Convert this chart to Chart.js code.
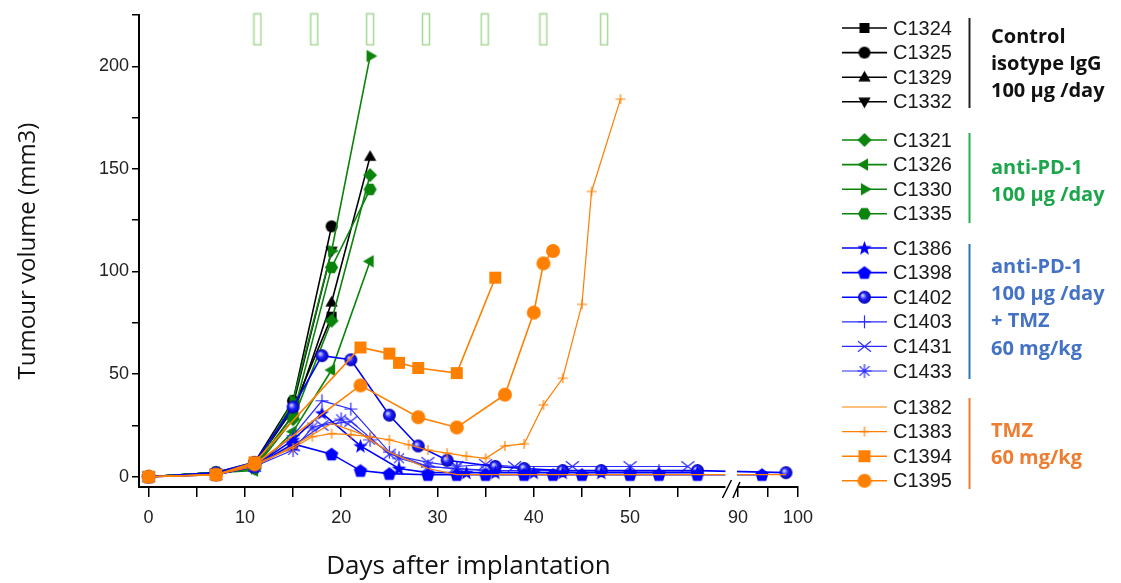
<!DOCTYPE html>
<html>
<head>
<meta charset="utf-8">
<script src="https://cdn.jsdelivr.net/npm/chart.js@4.4.1/dist/chart.umd.min.js"></script>
<style>
  html, body { margin: 0; padding: 0; background: #fff; }
  #chart { display: block; }
</style>
</head>
<body>
<canvas id="chart" width="1121" height="583"></canvas>
<script>
// tumour volume (mm3) by day after implantation, one pair of arrays per mouse

// control isotype IgG
const C1324_days = [0, 7, 11, 15, 19];
const C1324_vol  = [0, 1.5, 6, 33, 78];
const C1325_days = [0, 7, 11, 15, 19];
const C1325_vol  = [0, 2, 7, 37, 122];
const C1329_days = [0, 7, 11, 15, 19, 23];
const C1329_vol  = [0, 1.5, 5, 30, 85, 156];
const C1332_days = [0, 7, 11, 15, 19];
const C1332_vol  = [0, 2, 6, 35, 110];

// anti-PD-1
const C1321_days = [0, 7, 11, 15, 19, 23];
const C1321_vol  = [0, 2, 4, 28, 76, 147];
const C1326_days = [0, 7, 11, 15, 19, 23];
const C1326_vol  = [0, 2, 3, 22, 52, 105];
const C1330_days = [0, 7, 11, 15, 19, 23];
const C1330_vol  = [0, 2, 4, 37, 110, 205];
const C1335_days = [0, 7, 11, 15, 19, 23];
const C1335_vol  = [0, 2, 5, 30, 102, 140];

// anti-PD-1 + TMZ
const C1386_days = [0, 7, 11, 15, 18, 22, 26, 29, 33, 36, 40, 43, 47, 50, 53, 57];
const C1386_vol  = [0, 1, 5, 18, 31, 15, 4, 2, 2, 2, 2, 2, 2, 2, 2, 2];
const C1398_days = [0, 7, 11, 15, 19, 22, 25, 29, 32, 35, 39, 42, 45, 50, 53, 57, 94];
const C1398_vol  = [0, 1, 5, 16, 11, 3, 1.5, 1, 1, 1, 1, 1, 1, 1, 1, 1, 1];
const C1402_days = [0, 7, 11, 15, 18, 21, 25, 28, 31, 36, 39, 43, 47, 57, 98];
const C1402_vol  = [0, 2, 7, 34, 59, 57, 30, 15, 8, 5, 4, 3, 3, 3, 2];
const C1403_days = [0, 7, 11, 15, 18, 21, 25, 29, 32, 36, 39, 43, 47, 50, 53, 57];
const C1403_vol  = [0, 1, 5, 20, 37, 33, 12, 5, 4, 3, 3, 3, 3, 3, 3, 3];
const C1431_days = [0, 7, 11, 15, 18, 21, 25, 29, 32, 35, 38, 44, 50, 56];
const C1431_vol  = [0, 1, 5, 15, 25, 27, 11, 7, 5, 6, 5, 5, 5, 5];
const C1433_days = [0, 7, 11, 15, 17, 20, 23, 26, 29, 32, 35, 39];
const C1433_vol  = [0, 1, 5, 13, 24, 28, 18, 9, 5, 4, 3, 3];

// TMZ
const C1382_days = [0, 7, 11, 15, 19, 22, 25, 29, 32, 98];
const C1382_vol  = [0, 1, 5, 15, 26, 21, 12, 4, 1, 1];
const C1383_days = [0, 7, 11, 15, 17, 19, 21, 23, 25, 27, 29, 31, 33, 35, 37, 39, 41, 43, 45, 46, 49];
const C1383_vol  = [0, 1, 6, 14, 19.5, 21, 20.5, 19.5, 18, 15.6, 13, 11.5, 10, 9, 15, 16, 35, 48, 84, 139, 184];
const C1394_days = [0, 7, 11, 22, 25, 26, 28, 32, 36];
const C1394_vol  = [0, 1, 7, 63, 60, 55.5, 53, 50.5, 97];
const C1395_days = [0, 7, 11, 22, 28, 32, 37, 40, 41, 42];
const C1395_vol  = [0, 1, 6, 44.5, 29, 24, 40, 80, 104, 110];

// dosing days, marked along the top
const dosingDays = [11.3, 17.2, 23, 28.8, 34.9, 41, 47.3];

// axis ticks
const xTickDays  = [0, 5, 10, 15, 20, 25, 30, 35, 40, 45, 50, 55, 90, 95, 100];
const xLabelDays = [0, 10, 20, 30, 40, 50, 90, 100];
const yTicks     = [0, 25, 50, 75, 100, 125, 150, 175, 200, 225];
const yLabels    = [0, 50, 100, 150, 200];

// legend groups
const groupNames = [
  ['C1324', 'C1325', 'C1329', 'C1332'],
  ['C1321', 'C1326', 'C1330', 'C1335'],
  ['C1386', 'C1398', 'C1402', 'C1403', 'C1431', 'C1433'],
  ['C1382', 'C1383', 'C1394', 'C1395']
];
const groupText = [
  ['Control', 'isotype IgG', '100 µg /day'],
  ['anti-PD-1', '100 µg /day'],
  ['anti-PD-1', '100 µg /day', '+ TMZ', '60 mg/kg'],
  ['TMZ', '60 mg/kg']
];

// ---- broken x axis: 0..~60 at full width, 90..100 squeezed after the gap
const BREAK_AT = 59.8;
const RESUME_AT = 90;
const RESUME_POS = 61.2;
const RESUME_SCALE = 0.6237;
function axisPos(day) {
  return day <= BREAK_AT ? day : RESUME_POS + (day - RESUME_AT) * RESUME_SCALE;
}

// ---- marker images
function makeMarker(kind, color, size) {
  const pad = 3;
  const c = document.createElement('canvas');
  c.width = c.height = Math.ceil(size + pad * 2);
  const ctx = c.getContext('2d');
  const cx = c.width / 2, cy = c.height / 2, r = size / 2;
  ctx.fillStyle = color;
  ctx.strokeStyle = color;
  ctx.lineWidth = 1.2;

  function poly(n, rot, rad, yShift) {
    ctx.beginPath();
    for (let i = 0; i < n; i++) {
      const a = rot + i * 2 * Math.PI / n;
      const px = cx + rad * Math.cos(a), py = cy + (yShift || 0) + rad * Math.sin(a);
      if (i === 0) ctx.moveTo(px, py); else ctx.lineTo(px, py);
    }
    ctx.closePath();
    ctx.fill();
  }

  switch (kind) {
    case 'square':
      ctx.fillRect(cx - r, cy - r, size, size);
      break;
    case 'circle':
      ctx.beginPath(); ctx.arc(cx, cy, r, 0, Math.PI * 2); ctx.fill();
      break;
    case 'ball': {
      const g = ctx.createRadialGradient(cx - r * 0.3, cy - r * 0.3, r * 0.1, cx, cy, r);
      g.addColorStop(0, '#c8ccff');
      g.addColorStop(0.45, '#2020ff');
      g.addColorStop(1, '#0000a8');
      ctx.fillStyle = g;
      ctx.beginPath(); ctx.arc(cx, cy, r, 0, Math.PI * 2); ctx.fill();
      break;
    }
    case 'triUp':    poly(3, -Math.PI / 2, r * 1.1, r * 0.1); break;
    case 'triDown':  poly(3, Math.PI / 2, r * 1.1, -r * 0.1); break;
    case 'triLeft':  poly(3, Math.PI, r * 1.1); break;
    case 'triRight': poly(3, 0, r * 1.1); break;
    case 'diamond':  poly(4, 0, r); break;
    case 'hexagon':  poly(6, 0, r); break;
    case 'pentagon': poly(5, -Math.PI / 2, r, r * 0.08); break;
    case 'star': {
      ctx.beginPath();
      for (let i = 0; i < 10; i++) {
        const a = -Math.PI / 2 + i * Math.PI / 5;
        const rad = i % 2 ? r * 0.42 : r;
        const px = cx + rad * Math.cos(a), py = cy + rad * Math.sin(a) + r * 0.08;
        if (i === 0) ctx.moveTo(px, py); else ctx.lineTo(px, py);
      }
      ctx.closePath(); ctx.fill();
      break;
    }
    case 'plus':
      ctx.beginPath();
      ctx.moveTo(cx - r, cy); ctx.lineTo(cx + r, cy);
      ctx.moveTo(cx, cy - r); ctx.lineTo(cx, cy + r);
      ctx.stroke();
      break;
    case 'cross':
      ctx.beginPath();
      ctx.moveTo(cx - r, cy - r * 0.8); ctx.lineTo(cx + r, cy + r * 0.8);
      ctx.moveTo(cx - r, cy + r * 0.8); ctx.lineTo(cx + r, cy - r * 0.8);
      ctx.stroke();
      break;
    case 'asterisk':
      ctx.beginPath();
      for (let i = 0; i < 4; i++) {
        const a = i * Math.PI / 4;
        ctx.moveTo(cx - r * Math.cos(a), cy - r * Math.sin(a));
        ctx.lineTo(cx + r * Math.cos(a), cy + r * Math.sin(a));
      }
      ctx.stroke();
      break;
  }
  return c;
}

function makeDoseBar() {
  const c = document.createElement('canvas');
  c.width = 10; c.height = 34;
  const ctx = c.getContext('2d');
  ctx.fillStyle = '#fff';
  ctx.fillRect(1.5, 1.5, 7, 31);
  ctx.strokeStyle = '#a6d896';
  ctx.lineWidth = 1.5;
  ctx.strokeRect(1.5, 1.5, 7, 31);
  return c;
}

const BLACK = '#000000', GREEN = '#0a840a', BLUE = '#0000ff', BLUE_THIN = '#2b2bff', ORANGE = '#ff8000';

const series = [
  { name: 'C1324', days: C1324_days, vol: C1324_vol, color: BLACK, marker: 'square', size: 10, group: 0 },
  { name: 'C1325', days: C1325_days, vol: C1325_vol, color: BLACK, marker: 'circle', size: 12, group: 0 },
  { name: 'C1329', days: C1329_days, vol: C1329_vol, color: BLACK, marker: 'triUp', size: 13, group: 0 },
  { name: 'C1332', days: C1332_days, vol: C1332_vol, color: BLACK, marker: 'triDown', size: 13, group: 0 },
  { name: 'C1321', days: C1321_days, vol: C1321_vol, color: GREEN, marker: 'diamond', size: 14, group: 1 },
  { name: 'C1326', days: C1326_days, vol: C1326_vol, color: GREEN, marker: 'triLeft', size: 13, group: 1 },
  { name: 'C1330', days: C1330_days, vol: C1330_vol, color: GREEN, marker: 'triRight', size: 13, group: 1 },
  { name: 'C1335', days: C1335_days, vol: C1335_vol, color: GREEN, marker: 'hexagon', size: 13, group: 1 },
  { name: 'C1386', days: C1386_days, vol: C1386_vol, color: BLUE, marker: 'star', size: 15, group: 2 },
  { name: 'C1398', days: C1398_days, vol: C1398_vol, color: BLUE, marker: 'pentagon', size: 14, group: 2 },
  { name: 'C1402', days: C1402_days, vol: C1402_vol, color: BLUE, marker: 'ball', size: 13, group: 2 },
  { name: 'C1403', days: C1403_days, vol: C1403_vol, color: BLUE_THIN, marker: 'plus', size: 13, group: 2, thin: true },
  { name: 'C1431', days: C1431_days, vol: C1431_vol, color: BLUE_THIN, marker: 'cross', size: 13, group: 2, thin: true },
  { name: 'C1433', days: C1433_days, vol: C1433_vol, color: BLUE_THIN, marker: 'asterisk', size: 14, group: 2, thin: true },
  { name: 'C1382', days: C1382_days, vol: C1382_vol, color: ORANGE, marker: null, size: 0, group: 3, thin: true },
  { name: 'C1383', days: C1383_days, vol: C1383_vol, color: ORANGE, marker: 'plus', size: 10, group: 3, thin: true },
  { name: 'C1394', days: C1394_days, vol: C1394_vol, color: ORANGE, marker: 'square', size: 12, group: 3 },
  { name: 'C1395', days: C1395_days, vol: C1395_vol, color: ORANGE, marker: 'circle', size: 14, group: 3 }
];
series.forEach(s => { s.img = s.marker ? makeMarker(s.marker, s.color, s.size) : null; });

// orange drawn on top, then blue, green, black
const groupOrder = [3, 2, 1, 0];

const datasets = series.map(s => ({
  label: s.name,
  data: s.days.map((d, i) => ({ x: axisPos(d), y: s.vol[i] })),
  borderColor: s.color,
  backgroundColor: s.color,
  borderWidth: s.thin ? 1.2 : 1.6,
  pointStyle: s.img || 'circle',
  pointRadius: s.img ? 5 : 0,
  tension: 0,
  order: groupOrder[s.group]
}));

datasets.push({
  label: 'dosing',
  data: dosingDays.map(d => ({ x: axisPos(d), y: 218 })),
  showLine: false,
  pointStyle: makeDoseBar(),
  pointRadius: 5,
  clip: false,
  order: 5
});

// white out the axis gap and draw the break slashes
const axisBreak = {
  id: 'axisBreak',
  afterDatasetsDraw(chart) {
    const { ctx, chartArea, scales } = chart;
    const x1 = scales.x.getPixelForValue(BREAK_AT) + 1;
    const x2 = scales.x.getPixelForValue(RESUME_POS) - 1;
    ctx.save();
    ctx.fillStyle = '#fff';
    ctx.fillRect(x1, chartArea.top, x2 - x1, chartArea.bottom - chartArea.top + 2);
    const b = chartArea.bottom;
    ctx.strokeStyle = '#000';
    ctx.lineWidth = 1.5;
    ctx.beginPath();
    ctx.moveTo(x1 - 3, b + 11); ctx.lineTo(x1 + 6, b - 7);
    ctx.moveTo(x2 - 4, b + 11); ctx.lineTo(x2 + 3, b - 5);
    ctx.stroke();
    ctx.restore();
  }
};

// grouped legend on the right
const groupLegend = {
  id: 'groupLegend',
  afterDraw(chart) {
    const ctx = chart.ctx;
    const rowStart = [28, 140, 248, 407];
    const rowStep = 24.6;
    const textStart = [37, 168, 267, 431];
    const textStep = 27.3;
    const barSpan = [[18, 108], [133, 223], [244, 379], [398, 489]];
    const textColor = ['#111111', '#1ca64c', '#4472c4', '#ed7d31'];
    const barColor = ['#222222', '#22b14c', '#2e75b6', '#ed7d31'];
    ctx.save();
    groupNames.forEach((names, g) => {
      names.forEach((name, i) => {
        const s = series.find(t => t.name === name);
        const y = rowStart[g] + i * rowStep;
        ctx.strokeStyle = s.color;
        ctx.lineWidth = s.thin ? 1.2 : 1.6;
        ctx.beginPath(); ctx.moveTo(842, y); ctx.lineTo(887, y); ctx.stroke();
        if (s.img) ctx.drawImage(s.img, 864.5 - s.img.width / 2, y - s.img.height / 2);
        ctx.fillStyle = '#1a1a1a';
        ctx.font = '20px "Liberation Sans", Arial, sans-serif';
        ctx.textBaseline = 'middle';
        ctx.fillText(name, 893, y + 1);
      });
      ctx.strokeStyle = barColor[g];
      ctx.lineWidth = 2;
      ctx.beginPath(); ctx.moveTo(969.5, barSpan[g][0]); ctx.lineTo(969.5, barSpan[g][1]); ctx.stroke();
      ctx.fillStyle = textColor[g];
      ctx.font = 'bold 20px "Open Sans", sans-serif';
      groupText[g].forEach((line, i) => ctx.fillText(line, 991, textStart[g] + i * textStep));
    });
    ctx.restore();
  }
};

new Chart(document.getElementById('chart'), {
  type: 'line',
  data: { datasets },
  options: {
    responsive: false,
    animation: false,
    layout: { padding: { left: 0, right: 323, top: 15, bottom: 0 } },
    plugins: { legend: { display: false }, tooltip: { enabled: false } },
    scales: {
      x: {
        type: 'linear',
        min: -1,
        max: axisPos(100),
        afterBuildTicks: axis => { axis.ticks = xTickDays.map(d => ({ value: axisPos(d) })); },
        afterFit: axis => { axis.height = 96; },
        ticks: {
          autoSkip: false,
          maxRotation: 0,
          padding: 10,
          color: '#222',
          font: { family: '"Liberation Sans", Arial, sans-serif', size: 18 },
          callback: (v, i) => xLabelDays.includes(xTickDays[i]) ? String(xTickDays[i]) : ''
        },
        grid: { drawOnChartArea: false, color: '#000', lineWidth: 1.5, tickLength: 10 },
        border: { color: '#000', width: 2 },
        title: {
          display: true,
          text: 'Days after implantation',
          color: '#111',
          font: { family: '"Open Sans", sans-serif', size: 26 },
          padding: { top: 0, bottom: 1 }
        }
      },
      y: {
        min: -5,
        max: 225,
        afterBuildTicks: axis => { axis.ticks = yTicks.map(v => ({ value: v })); },
        afterFit: axis => { axis.width = 139; },
        ticks: {
          autoSkip: false,
          padding: 3,
          color: '#222',
          font: { family: '"Liberation Sans", Arial, sans-serif', size: 18 },
          callback: v => yLabels.includes(v) ? String(v) : ''
        },
        grid: { drawOnChartArea: false, color: '#000', lineWidth: 1.5, tickLength: 7 },
        border: { color: '#000', width: 2 },
        title: {
          display: true,
          text: 'Tumour volume (mm3)',
          color: '#111',
          font: { family: '"Open Sans", sans-serif', size: 24 },
          padding: { top: 14, bottom: 0 }
        }
      }
    }
  },
  plugins: [axisBreak, groupLegend]
});
</script>
</body>
</html>
